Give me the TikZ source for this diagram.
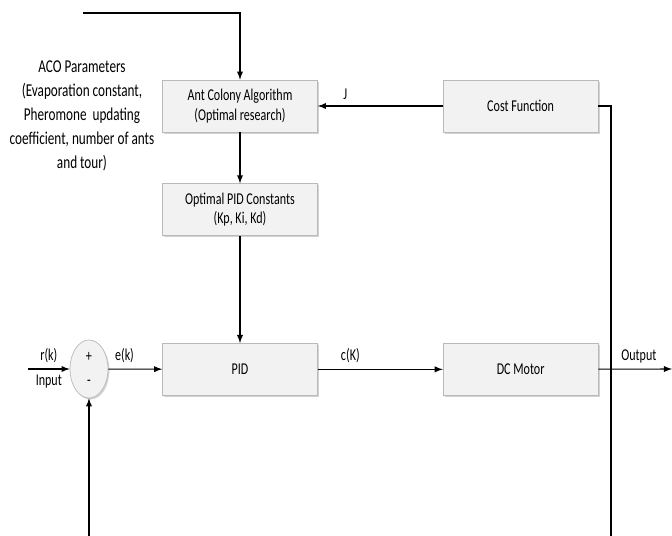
\documentclass[tikz,border=0pt]{standalone}
\usepackage{fontspec}
\setmainfont{Carlito}[FakeStretch=0.73]
\usepackage{tikz}
\usetikzlibrary{shapes.geometric, arrows, positioning, shadows}

\begin{document}
\begin{tikzpicture}[
    x=0.02cm, y=-0.02cm,
    font=\fontsize{9.4}{11}\selectfont,
    block/.style={rectangle, draw=gray!55, fill=gray!10, text centered, align=center, minimum width=3.1cm, minimum height=1.04cm, drop shadow={opacity=0.35, shadow xshift=0.8pt, shadow yshift=-0.9pt}},
    sum/.style={ellipse, draw=gray!55, fill=gray!10, align=center, minimum width=0.76cm, minimum height=1.16cm, inner sep=0pt, drop shadow={opacity=0.35, shadow xshift=0.8pt, shadow yshift=-0.9pt}},
    arrow/.style={-latex, semithick},
    line/.style={semithick}
]
    \useasboundingbox (0,0) rectangle (672,536);
    \node [block] (aco) at (240,106) {Ant Colony Algorithm\\(Optimal research)};
    \node [block, right=2.5cm of aco] (cost) {Cost Function};
    \node [block, below=1.02cm of aco] (opc) {Optimal PID Constants\\(Kp, Ki, Kd)};
    \node [block, below=2.14cm of opc] (pid) {PID};
    \node [block, right=2.5cm of pid] (motor) {DC Motor};
    \node [sum] (sum) at (89,369) {+\\[3pt]-};
    \node [align=center, font=\fontsize{10.3}{13.6}\selectfont] (params) at (82,116) {ACO Parameters\\(Evaporation constant,\\Pheromone\ \ updating\\coefficient, number of ants\\and tour)};
    \coordinate (top) at (83,13);
    \coordinate (in) at (28,369);
    \coordinate (out) at (672,369);
    \coordinate (fbl) at (89,536);
    \coordinate (fbr) at (611,536);
    \draw [arrow] (top) -| (aco);
    \draw [arrow] (cost) -- node[above, pos=0.78] {J} (aco);
    \draw [arrow] (aco) -- (opc);
    \draw [arrow] (opc) -- (pid);
    \draw [arrow] (in) -- node[above] {r(k)} node[below] {Input} (sum);
    \draw [arrow] (sum) -- node[above, pos=0.3] {e(k)} (pid);
    \draw [arrow] (pid) -- node[above, pos=0.26] {c(K)} (motor);
    \draw [arrow] (motor) -- node[above, pos=0.55] {Output} (out);
    \draw [line] (cost) -| (fbr);
    \draw [arrow] (fbl) -- (sum);
\end{tikzpicture}
\end{document}
